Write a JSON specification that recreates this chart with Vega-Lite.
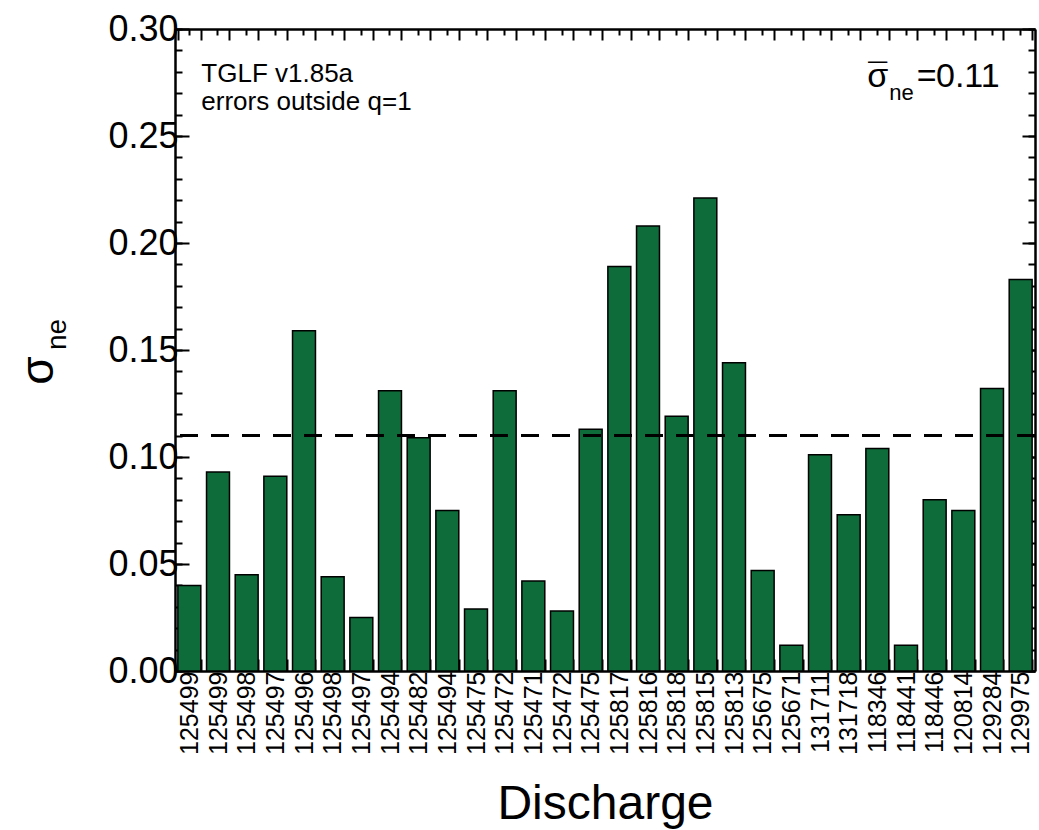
{
  "$schema": "https://vega.github.io/schema/vega-lite/v6.json",
  "width": 860,
  "height": 642,
  "autosize": "none",
  "padding": {"left": 175, "top": 29, "right": 4, "bottom": 159},
  "background": "white",
  "config": {
    "view": {"stroke": null},
    "font": "Liberation Sans",
    "axis": {
      "labelFont": "Liberation Sans",
      "titleFont": "Liberation Sans",
      "labelColor": "black",
      "titleColor": "black",
      "tickColor": "black",
      "domainColor": "black",
      "titleFontWeight": "normal",
      "grid": false,
      "domainWidth": 2.5,
      "tickWidth": 2
    }
  },
  "datasets": {
    "runs": [
      {"bar": "01|125499", "sigma_ne": 0.040},
      {"bar": "02|125499", "sigma_ne": 0.093},
      {"bar": "03|125498", "sigma_ne": 0.045},
      {"bar": "04|125497", "sigma_ne": 0.091},
      {"bar": "05|125496", "sigma_ne": 0.159},
      {"bar": "06|125498", "sigma_ne": 0.044},
      {"bar": "07|125497", "sigma_ne": 0.025},
      {"bar": "08|125494", "sigma_ne": 0.131},
      {"bar": "09|125482", "sigma_ne": 0.109},
      {"bar": "10|125494", "sigma_ne": 0.075},
      {"bar": "11|125475", "sigma_ne": 0.029},
      {"bar": "12|125472", "sigma_ne": 0.131},
      {"bar": "13|125471", "sigma_ne": 0.042},
      {"bar": "14|125472", "sigma_ne": 0.028},
      {"bar": "15|125475", "sigma_ne": 0.113},
      {"bar": "16|125817", "sigma_ne": 0.189},
      {"bar": "17|125816", "sigma_ne": 0.208},
      {"bar": "18|125818", "sigma_ne": 0.119},
      {"bar": "19|125815", "sigma_ne": 0.221},
      {"bar": "20|125813", "sigma_ne": 0.144},
      {"bar": "21|125675", "sigma_ne": 0.047},
      {"bar": "22|125671", "sigma_ne": 0.012},
      {"bar": "23|131711", "sigma_ne": 0.101},
      {"bar": "24|131718", "sigma_ne": 0.073},
      {"bar": "25|118346", "sigma_ne": 0.104},
      {"bar": "26|118441", "sigma_ne": 0.012},
      {"bar": "27|118446", "sigma_ne": 0.080},
      {"bar": "28|120814", "sigma_ne": 0.075},
      {"bar": "29|129284", "sigma_ne": 0.132},
      {"bar": "30|129975", "sigma_ne": 0.183}
    ],
    "mean": [{"mean_sigma_ne": 0.11}]
  },
  "resolve": {"axis": {"x": "independent", "y": "independent"}},
  "layer": [
    {
      "data": {"name": "runs"},
      "mark": {"type": "bar", "fill": "#0e6c3a", "stroke": "black", "strokeWidth": 1.5},
      "encoding": {
        "x": {
          "field": "bar",
          "type": "ordinal",
          "scale": {"type": "band", "paddingInner": 0.2, "paddingOuter": 0.1},
          "axis": {
            "orient": "bottom",
            "labelExpr": "split(datum.value, '|')[1]",
            "labelAngle": 270,
            "labelAlign": "right",
            "labelBaseline": "middle",
            "labelFontSize": 25,
            "labelPadding": 12,
            "tickBand": "extent",
            "tickSize": -12,
            "title": "Discharge",
            "titleFontSize": 48,
            "titlePadding": 26
          }
        },
        "y": {
          "field": "sigma_ne",
          "type": "quantitative",
          "scale": {"domain": [0, 0.3], "nice": false},
          "axis": {
            "orient": "left",
            "values": [0, 0.05, 0.1, 0.15, 0.2, 0.25, 0.3],
            "format": ".2f",
            "labelFontSize": 36,
            "labelPadding": 11,
            "tickSize": -14,
            "title": "σ",
            "titleFontSize": 46,
            "titleAngle": 270,
            "titleAlign": "center",
            "titleBaseline": "alphabetic",
            "titleX": -123,
            "titleY": 341
          }
        }
      }
    },
    {
      "data": {"name": "runs"},
      "mark": {"type": "bar", "opacity": 0},
      "encoding": {
        "x": {
          "field": "bar",
          "type": "ordinal",
          "axis": {
            "orient": "bottom",
            "labels": false,
            "domain": false,
            "tickBand": "center",
            "tickSize": -6,
            "title": null
          }
        },
        "y": {
          "field": "sigma_ne",
          "type": "quantitative",
          "axis": {
            "orient": "left",
            "values": [0, 0.01, 0.02, 0.03, 0.04, 0.05, 0.06, 0.07, 0.08, 0.09, 0.1, 0.11, 0.12, 0.13, 0.14, 0.15, 0.16, 0.17, 0.18, 0.19, 0.2, 0.21, 0.22, 0.23, 0.24, 0.25, 0.26, 0.27, 0.28, 0.29, 0.3],
            "labels": false,
            "domain": false,
            "tickSize": -7,
            "title": "ne",
            "titleFontSize": 28,
            "titleAngle": 270,
            "titleAlign": "center",
            "titleBaseline": "alphabetic",
            "titleX": -110,
            "titleY": 305
          }
        }
      }
    },
    {
      "data": {"name": "runs"},
      "mark": {"type": "bar", "opacity": 0},
      "encoding": {
        "x": {
          "field": "bar",
          "type": "ordinal",
          "axis": {
            "orient": "top",
            "labels": false,
            "tickBand": "extent",
            "tickSize": -11,
            "title": null
          }
        },
        "y": {
          "field": "sigma_ne",
          "type": "quantitative",
          "axis": {
            "orient": "right",
            "values": [0, 0.05, 0.1, 0.15, 0.2, 0.25, 0.3],
            "labels": false,
            "tickSize": -13,
            "title": null
          }
        }
      }
    },
    {
      "data": {"name": "runs"},
      "mark": {"type": "bar", "opacity": 0},
      "encoding": {
        "x": {
          "field": "bar",
          "type": "ordinal",
          "axis": {
            "orient": "top",
            "labels": false,
            "domain": false,
            "tickBand": "center",
            "tickSize": -6,
            "title": null
          }
        },
        "y": {
          "field": "sigma_ne",
          "type": "quantitative",
          "axis": {
            "orient": "right",
            "values": [0, 0.01, 0.02, 0.03, 0.04, 0.05, 0.06, 0.07, 0.08, 0.09, 0.1, 0.11, 0.12, 0.13, 0.14, 0.15, 0.16, 0.17, 0.18, 0.19, 0.2, 0.21, 0.22, 0.23, 0.24, 0.25, 0.26, 0.27, 0.28, 0.29, 0.3],
            "labels": false,
            "domain": false,
            "tickSize": -7,
            "title": null
          }
        }
      }
    },
    {
      "data": {"name": "mean"},
      "mark": {"type": "rule", "color": "black", "strokeWidth": 3, "strokeDash": [18, 13]},
      "encoding": {
        "y": {"field": "mean_sigma_ne", "type": "quantitative", "axis": null}
      }
    },
    {
      "data": {"name": "mean"},
      "mark": {"type": "text", "align": "left", "baseline": "alphabetic", "fontSize": 26, "lineHeight": 27.5, "dx": 12, "font": "Liberation Sans", "color": "black"},
      "encoding": {
        "x": {"datum": "01|125499", "type": "ordinal", "axis": null},
        "y": {"datum": 0.2752, "type": "quantitative", "axis": null},
        "text": {"value": ["TGLF v1.85a", "errors outside q=1"]}
      }
    },
    {
      "data": {"name": "mean"},
      "mark": {"type": "text", "align": "right", "baseline": "alphabetic", "fontSize": 34, "dx": -21, "font": "Liberation Sans", "color": "black"},
      "encoding": {
        "x": {"datum": "30|129975", "type": "ordinal", "axis": null},
        "y": {"datum": 0.2729, "type": "quantitative", "axis": null},
        "text": {"field": "mean_sigma_ne", "type": "quantitative", "format": ".2f"}
      }
    },
    {
      "data": {"name": "mean"},
      "mark": {"type": "text", "align": "right", "baseline": "alphabetic", "fontSize": 34, "dx": -84, "font": "Liberation Sans", "color": "black"},
      "encoding": {
        "x": {"datum": "30|129975", "type": "ordinal", "axis": null},
        "y": {"datum": 0.2729, "type": "quantitative", "axis": null},
        "text": {"value": "="}
      }
    },
    {
      "data": {"name": "mean"},
      "mark": {"type": "text", "align": "right", "baseline": "alphabetic", "fontSize": 22, "dx": -107, "font": "Liberation Sans", "color": "black"},
      "encoding": {
        "x": {"datum": "30|129975", "type": "ordinal", "axis": null},
        "y": {"datum": 0.2668, "type": "quantitative", "axis": null},
        "text": {"value": "ne"}
      }
    },
    {
      "data": {"name": "mean"},
      "mark": {"type": "text", "align": "center", "baseline": "alphabetic", "fontSize": 34, "dx": -143, "font": "Liberation Sans", "color": "black"},
      "encoding": {
        "x": {"datum": "30|129975", "type": "ordinal", "axis": null},
        "y": {"datum": 0.2729, "type": "quantitative", "axis": null},
        "text": {"value": "σ"}
      }
    },
    {
      "data": {"name": "mean"},
      "mark": {"type": "text", "align": "center", "baseline": "alphabetic", "fontSize": 34, "dx": -143, "font": "Liberation Sans", "color": "black"},
      "encoding": {
        "x": {"datum": "30|129975", "type": "ordinal", "axis": null},
        "y": {"datum": 0.2729, "type": "quantitative", "axis": null},
        "text": {"value": "¯"}
      }
    }
  ]
}
